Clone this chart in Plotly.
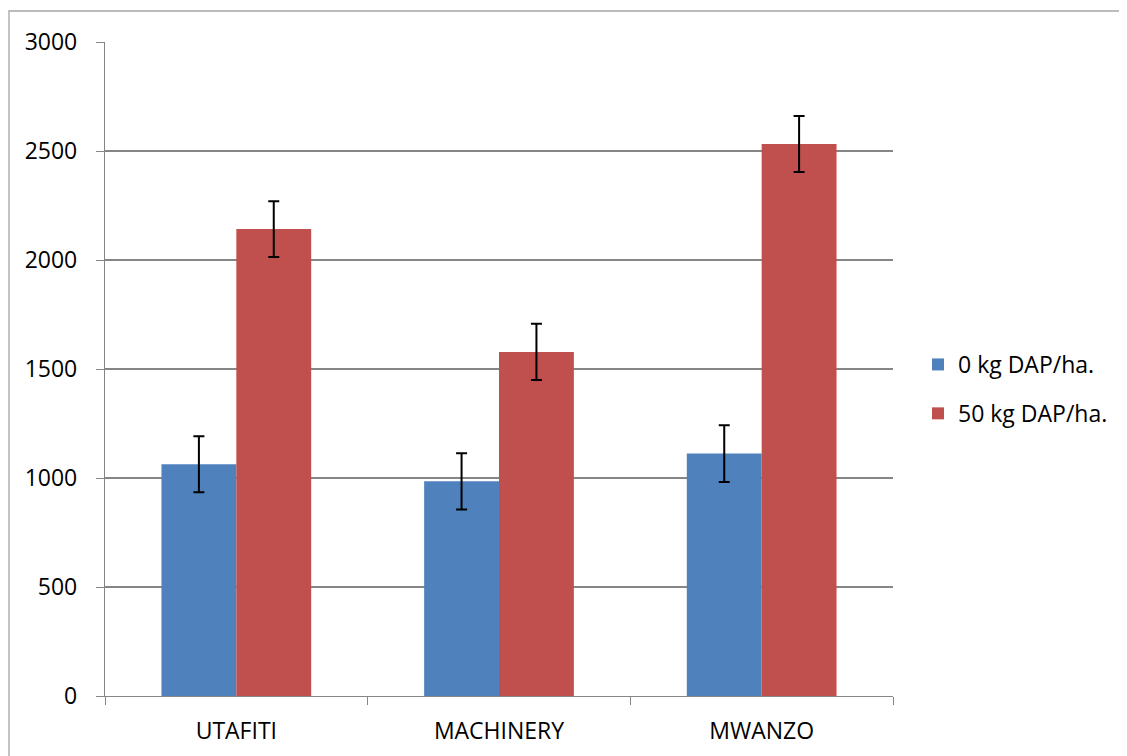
import plotly.graph_objects as go

categories = ["UTAFITI", "MACHINERY", "MWANZO"]
series_names = ["0 kg DAP/ha.", "50 kg DAP/ha."]
dap0 = [1063, 985, 1112]
dap50 = [2142, 1578, 2532]
err0 = [128, 129, 130]
err50 = [128, 129, 128]
y_ticks = [0, 500, 1000, 1500, 2000, 2500, 3000]

FONT = "Open Sans, sans-serif"
colors = ["#4F81BD", "#C0504D"]

fig = go.Figure()
for name, vals, errs, col in zip(series_names, [dap0, dap50], [err0, err50], colors):
    fig.add_trace(go.Bar(
        x=categories, y=vals, name=name, legendgroup=name,
        marker=dict(color=col, line=dict(width=0)),
        error_y=dict(type="data", array=errs, visible=True,
                     color="black", thickness=2, width=5.5),
    ))

# page body has an 8px margin; figure canvas starts at (8, 8)
OFF = 8
W, H = 1127, 756
L, T = 105 - OFF, 42 - OFF
pw, ph = 788, 654
R = W - L - pw
B = H - T - ph

fig.update_layout(
    width=W, height=H,
    margin=dict(l=L, r=R, t=T, b=B, pad=0),
    paper_bgcolor="white", plot_bgcolor="white",
    barmode="group", bargap=0.43, bargroupgap=0,
    font=dict(family=FONT, size=23, color="black"),
    showlegend=True,
    legend=dict(
        x=(918 - 105) / pw, xanchor="left",
        y=(696 - 389) / ph, yanchor="middle",
        traceorder="grouped", tracegroupgap=16,
        font=dict(family=FONT, size=23, color="black"),
        bgcolor="rgba(0,0,0,0)",
    ),
    xaxis=dict(
        type="category", tickson="boundaries",
        ticks="outside", ticklen=8, tickcolor="#868686", tickwidth=1.3,
        showline=True, linecolor="#868686", linewidth=1.3,
        showgrid=False, ticklabelstandoff=14,
        tickfont=dict(family=FONT, size=23, color="black"),
    ),
    yaxis=dict(
        range=[0, 3000], tickvals=y_ticks,
        ticks="outside", ticklen=8, tickcolor="#868686", tickwidth=1.3,
        showline=True, linecolor="#868686", linewidth=1.3,
        showgrid=True, gridcolor="#868686", gridwidth=1.5,
        zeroline=False, ticklabelstandoff=14,
        tickfont=dict(family=FONT, size=23, color="black"),
    ),
    shapes=[dict(
        type="rect", xref="paper", yref="paper",
        x0=(9 - 105) / pw, x1=(W + 40 - 105) / pw,
        y0=-(H - 696 + 40) / ph, y1=1 + (42 - 11) / ph,
        line=dict(color="#a6a6a6", width=1.3), fillcolor="rgba(0,0,0,0)",
        layer="below",
    )],
)

fig.write_html("out.html")
